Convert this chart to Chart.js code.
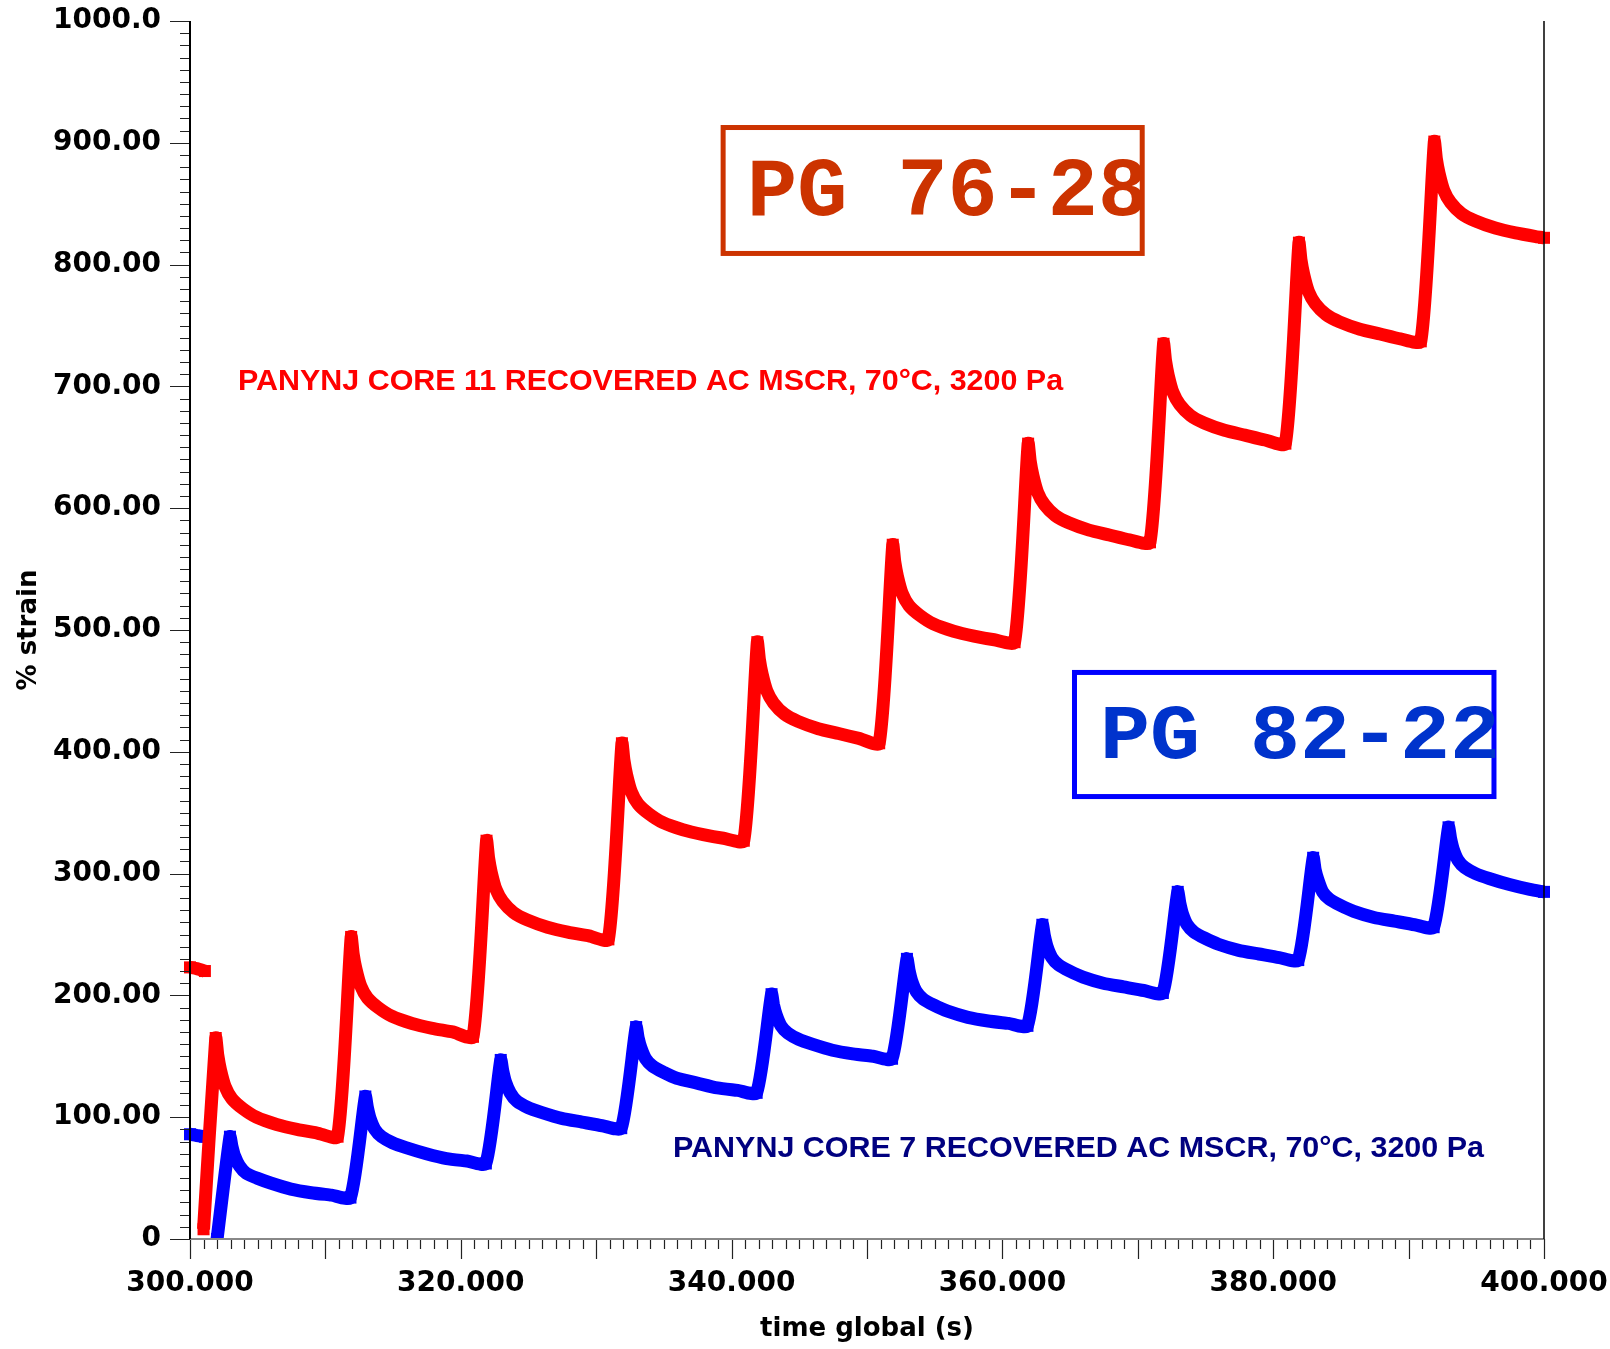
<!DOCTYPE html>
<html>
<head>
<meta charset="utf-8">
<script src="https://cdn.jsdelivr.net/npm/chart.js@4.4.1/dist/chart.umd.min.js"></script>
<style>
html, body { margin: 0; padding: 0; background: #fff; }
</style>
</head>
<body>
<canvas id="strain-chart" width="1610" height="1349"></canvas>
<script>
// PANYNJ core 11 (PG 76-28), red - time global (s) / % strain
const redTime = [
    300.0, 300.5, 301.1, 301.05,
    301.0, 301.9, 302.05, 302.25, 302.6, 303.1, 303.9, 304.9, 306.4, 307.9, 309.4, 310.9,
    311.9, 312.05, 312.25, 312.6, 313.1, 313.9, 314.9, 316.4, 317.9, 319.4, 320.9,
    321.9, 322.05, 322.25, 322.6, 323.1, 323.9, 324.9, 326.4, 327.9, 329.4, 330.9,
    331.9, 332.05, 332.25, 332.6, 333.1, 333.9, 334.9, 336.4, 337.9, 339.4, 340.9,
    341.9, 342.05, 342.25, 342.6, 343.1, 343.9, 344.9, 346.4, 347.9, 349.4, 350.9,
    351.9, 352.05, 352.25, 352.6, 353.1, 353.9, 354.9, 356.4, 357.9, 359.4, 360.9,
    361.9, 362.05, 362.25, 362.6, 363.1, 363.9, 364.9, 366.4, 367.9, 369.4, 370.9,
    371.9, 372.05, 372.25, 372.6, 373.1, 373.9, 374.9, 376.4, 377.9, 379.4, 380.9,
    381.9, 382.05, 382.25, 382.6, 383.1, 383.9, 384.9, 386.4, 387.9, 389.4, 390.9,
    391.9, 392.05, 392.25, 392.6, 393.1, 393.9, 394.9, 396.4, 397.9, 399.4, 400.0
];
const redStrain = [
    223, 222, 220, null,
    8, 165, 151, 139, 125, 115, 107, 100, 94, 90, 87, 84,
    248, 234, 222, 208, 198, 190, 183, 177, 173, 170, 166,
    327, 313, 301, 287, 277, 268, 262, 256, 252, 249, 246,
    407, 393, 381, 367, 357, 349, 342, 336, 332, 329, 327,
    490, 476, 464, 450, 440, 431, 425, 419, 415, 411, 407,
    570, 556, 544, 530, 520, 512, 505, 499, 495, 492, 490,
    653, 639, 627, 613, 603, 594, 588, 582, 578, 574, 572,
    735, 721, 709, 695, 685, 676, 670, 664, 660, 656, 653,
    818, 804, 792, 778, 768, 759, 753, 747, 743, 739, 737,
    901, 887, 875, 861, 851, 842, 836, 830, 826, 823, 822
];

// PANYNJ core 7 (PG 82-22), blue
const blueTime = [
    300.0, 300.5, 301.1, 301.5,
    302.0, 302.95, 303.1, 303.3, 303.65, 304.15, 304.95, 305.95, 307.45, 308.95, 310.45, 311.85,
    312.95, 313.1, 313.3, 313.65, 314.15, 314.95, 315.95, 317.45, 318.95, 320.45, 321.85,
    322.95, 323.1, 323.3, 323.65, 324.15, 324.95, 325.95, 327.45, 328.95, 330.45, 331.85,
    332.95, 333.1, 333.3, 333.65, 334.15, 334.95, 335.95, 337.45, 338.95, 340.45, 341.85,
    342.95, 343.1, 343.3, 343.65, 344.15, 344.95, 345.95, 347.45, 348.95, 350.45, 351.85,
    352.95, 353.1, 353.3, 353.65, 354.15, 354.95, 355.95, 357.45, 358.95, 360.45, 361.85,
    362.95, 363.1, 363.3, 363.65, 364.15, 364.95, 365.95, 367.45, 368.95, 370.45, 371.85,
    372.95, 373.1, 373.3, 373.65, 374.15, 374.95, 375.95, 377.45, 378.95, 380.45, 381.85,
    382.95, 383.1, 383.3, 383.65, 384.15, 384.95, 385.95, 387.45, 388.95, 390.45, 391.85,
    392.95, 393.1, 393.3, 393.65, 394.15, 394.95, 395.95, 397.45, 398.95, 400.0
];
const blueStrain = [
    86, 85, 84, null,
    0, 84, 76, 68, 60, 54, 50, 46, 41, 38, 36, 34,
    117, 108, 99, 90, 84, 79, 75, 70, 66, 64, 62,
    147, 138, 129, 120, 113, 108, 104, 99, 96, 93, 91,
    174, 165, 157, 148, 142, 137, 132, 128, 124, 122, 120,
    201, 192, 184, 175, 169, 164, 160, 155, 152, 150, 148,
    230, 221, 212, 203, 197, 192, 187, 182, 179, 177, 175,
    258, 249, 240, 231, 225, 220, 215, 210, 207, 204, 202,
    285, 276, 267, 258, 252, 247, 242, 237, 234, 231, 229,
    313, 303, 295, 285, 279, 274, 269, 264, 261, 258, 256,
    338, 329, 320, 311, 305, 300, 296, 291, 287, 285
];

const xTicks = [300, 320, 340, 360, 380, 400];
const yTicks = [0, 100, 200, 300, 400, 500, 600, 700, 800, 900, 1000];

const redLabel = 'PANYNJ CORE 11 RECOVERED AC MSCR, 70°C, 3200 Pa';
const blueLabel = 'PANYNJ CORE 7 RECOVERED AC MSCR, 70°C, 3200 Pa';
const redGrade = 'PG 76-28';
const blueGrade = 'PG 82-22';

function toPoints(times, values) {
    return times.map((t, i) => ({ x: t, y: values[i] }));
}

// square marker only where the curve turns (peaks and load starts)
function cornerRadius(context) {
    const d = context.dataset.data;
    const i = context.dataIndex;
    const cur = d[i] && d[i].y;
    if (cur === null || cur === undefined) return 0;
    const prev = i > 0 && d[i - 1].y !== null ? d[i - 1].y : null;
    const next = i < d.length - 1 && d[i + 1].y !== null ? d[i + 1].y : null;
    if (prev === null || next === null) return 8.5;
    if ((cur > prev && cur > next) || (cur <= prev && cur < next)) return 8.5;
    return 0;
}

// text squeezed to a given width (condensed look)
function fitText(ctx, text, left, baseline, width, font, color) {
    ctx.save();
    ctx.font = font;
    const w = ctx.measureText(text).width;
    ctx.translate(left, baseline);
    ctx.scale(width / w, 1);
    ctx.fillStyle = color;
    ctx.textAlign = 'left';
    ctx.textBaseline = 'alphabetic';
    ctx.fillText(text, 0, 0);
    ctx.restore();
}

// axis lines, minor ticks, frame, boxes and notes
const decorations = {
    id: 'decorations',
    afterDatasetsDraw(chart) {
        const { ctx, chartArea: a, scales: { x, y } } = chart;
        ctx.save();

        ctx.strokeStyle = '#222';
        ctx.lineWidth = 1.2;
        ctx.beginPath();
        for (let v = 0; v <= 1000; v += 10) {
            const py = Math.round(y.getPixelForValue(v)) + 0.5;
            const len = v % 100 === 0 ? 20 : 10;
            ctx.moveTo(a.left - len, py);
            ctx.lineTo(a.left, py);
        }
        for (let t = 300; t <= 400; t += 1) {
            const px = Math.round(x.getPixelForValue(t)) + 0.5;
            const len = t % 10 === 0 ? 20 : 10;
            ctx.moveTo(px, a.bottom);
            ctx.lineTo(px, a.bottom + len);
        }
        ctx.stroke();

        // bottom axis (grey), left axis and right frame (black)
        ctx.strokeStyle = '#888';
        ctx.lineWidth = 2;
        ctx.beginPath();
        ctx.moveTo(a.left, a.bottom);
        ctx.lineTo(a.right, a.bottom);
        ctx.stroke();
        ctx.strokeStyle = '#000';
        ctx.beginPath();
        ctx.moveTo(a.left, a.top);
        ctx.lineTo(a.left, a.bottom);
        ctx.stroke();
        ctx.lineWidth = 1.5;
        ctx.beginPath();
        ctx.moveTo(a.right, a.top);
        ctx.lineTo(a.right, a.bottom);
        ctx.stroke();

        // grade boxes
        const box = (t0, t1, v0, v1, color) => {
            const l = x.getPixelForValue(t0), r = x.getPixelForValue(t1);
            const tp = y.getPixelForValue(v1), bt = y.getPixelForValue(v0);
            ctx.strokeStyle = color;
            ctx.lineWidth = 5;
            ctx.strokeRect(l + 2.5, tp + 2.5, r - l - 5, bt - tp - 5);
        };
        box(339.19, 370.51, 807.1, 914.6, '#cc3300');
        box(365.14, 396.49, 361.2, 467.2, '#0000ff');

        fitText(ctx, redGrade, x.getPixelForValue(341.14), y.getPixelForValue(840.7),
            401, 'bold 84px "Liberation Mono"', '#cc3300');
        fitText(ctx, blueGrade, x.getPixelForValue(367.21), y.getPixelForValue(394.9),
            400, 'bold 78px "Liberation Mono"', '#0033cc');

        fitText(ctx, redLabel, x.getPixelForValue(303.55), y.getPixelForValue(697.0),
            825, 'bold 30px "Liberation Sans"', '#ff0000');
        fitText(ctx, blueLabel, x.getPixelForValue(335.67), y.getPixelForValue(67.6),
            811, 'bold 30px "Liberation Sans"', '#000080');

        ctx.restore();
    }
};

const lineStyle = {
    borderWidth: 13,
    pointStyle: 'rect',
    pointRadius: cornerRadius,
    pointHoverRadius: cornerRadius,
    pointBorderWidth: 0,
    tension: 0.2,
    spanGaps: false,
    borderJoinStyle: 'bevel',
    clip: { left: 8, top: 8, right: 8, bottom: 0 }
};

const tickFont = { family: 'DejaVu Sans', weight: 'bold', size: 28 };
const titleFont = { family: 'DejaVu Sans', weight: 'bold', size: 26 };

const config = {
    type: 'line',
    data: {
        datasets: [
            Object.assign({
                label: redGrade,
                data: toPoints(redTime, redStrain),
                borderColor: '#ff0000',
                backgroundColor: '#ff0000'
            }, lineStyle),
            Object.assign({
                label: blueGrade,
                data: toPoints(blueTime, blueStrain),
                borderColor: '#0000ff',
                backgroundColor: '#0000ff'
            }, lineStyle)
        ]
    },
    options: {
        responsive: false,
        animation: false,
        events: [],
        layout: { padding: { top: 21, right: 66, left: 0, bottom: 0 } },
        plugins: {
            legend: { display: false },
            tooltip: { enabled: false }
        },
        scales: {
            x: {
                type: 'linear',
                min: 300,
                max: 400,
                afterFit: s => {
                    s.height = 110;
                    s.paddingLeft = 0;
                    s.paddingRight = 0;
                },
                afterBuildTicks: s => { s.ticks = xTicks.map(v => ({ value: v })); },
                grid: { display: false, drawTicks: false, tickLength: 0 },
                border: { display: false },
                ticks: {
                    autoSkip: false,
                    maxRotation: 0,
                    padding: 28,
                    color: '#000',
                    font: tickFont,
                    callback: v => v.toFixed(3)
                },
                title: {
                    display: true,
                    text: 'time global (s)',
                    color: '#000',
                    font: titleFont,
                    padding: { top: 0, bottom: 4 }
                }
            },
            y: {
                type: 'linear',
                min: 0,
                max: 1000,
                afterFit: s => {
                    s.width = 190;
                    s.paddingTop = 0;
                    s.paddingBottom = 0;
                },
                afterBuildTicks: s => { s.ticks = yTicks.map(v => ({ value: v })); },
                grid: { display: false, drawTicks: false, tickLength: 0 },
                border: { display: false },
                ticks: {
                    autoSkip: false,
                    padding: 29,
                    color: '#000',
                    font: tickFont,
                    callback: v => v === 0 ? '0' : (v === 1000 ? '1000.0' : v.toFixed(2))
                },
                title: {
                    display: true,
                    text: '% strain',
                    color: '#000',
                    font: titleFont,
                    padding: { top: 14, bottom: 0 }
                }
            }
        }
    },
    plugins: [decorations]
};

const ctx = document.getElementById('strain-chart').getContext('2d');
new Chart(ctx, config);
</script>
</body>
</html>
